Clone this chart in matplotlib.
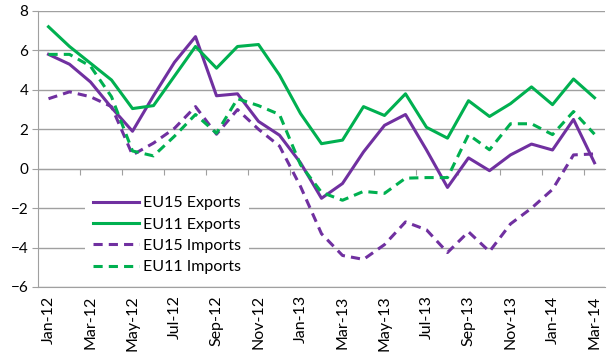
import matplotlib.pyplot as plt
import numpy as np

months = ['Jan-12', 'Feb-12', 'Mar-12', 'Apr-12', 'May-12', 'Jun-12', 'Jul-12', 'Aug-12', 'Sep-12',
          'Oct-12', 'Nov-12', 'Dec-12', 'Jan-13', 'Feb-13', 'Mar-13', 'Apr-13', 'May-13', 'Jun-13',
          'Jul-13', 'Aug-13', 'Sep-13', 'Oct-13', 'Nov-13', 'Dec-13', 'Jan-14', 'Feb-14', 'Mar-14']

eu15_exp = [5.8, 5.3, 4.4, 3.1, 1.9, 3.7, 5.4, 6.7, 3.7, 3.8, 2.4, 1.7, 0.3, -1.5, -0.75, 0.85,
            2.2, 2.75, 0.95, -0.95, 0.55, -0.1, 0.7, 1.25, 0.95, 2.5, 0.3]
eu11_exp = [7.2, 6.2, 5.35, 4.5, 3.05, 3.2, 4.7, 6.2, 5.1, 6.2, 6.3, 4.75, 2.8, 1.27, 1.45, 3.15,
            2.7, 3.8, 2.1, 1.55, 3.45, 2.65, 3.3, 4.15, 3.25, 4.55, 3.6]
eu15_imp = [3.55, 3.9, 3.65, 3.15, 0.7, 1.3, 2.05, 3.15, 1.75, 3.0, 2.0, 1.15, -0.9, -3.3, -4.4,
            -4.6, -3.85, -2.7, -3.1, -4.25, -3.2, -4.2, -2.8, -2.0, -1.05, 0.7, 0.75]
eu11_imp = [5.8, 5.8, 5.2, 3.65, 0.9, 0.65, 1.65, 2.75, 1.8, 3.55, 3.2, 2.75, 0.2, -1.2, -1.6,
            -1.15, -1.25, -0.48, -0.45, -0.45, 1.73, 0.96, 2.28, 2.28, 1.73, 2.9, 1.75]

purple = '#7030a0'
green = '#00b050'
grid_c = '#a0a0a0'

plt.rcParams['font.family'] = ['Lato', 'DejaVu Sans']

fig = plt.figure(figsize=(6.08, 3.53), dpi=100)
ax = fig.add_axes([38 / 608, 66 / 353, 567 / 608, 276 / 353])

x = np.arange(len(months))
lw = 2.2
ax.plot(x, eu15_exp, color=purple, lw=lw, label='EU15 Exports')
ax.plot(x, eu11_exp, color=green, lw=lw, label='EU11 Exports')
ax.plot(x, eu15_imp, color=purple, lw=lw, ls=(0, (3, 2)), label='EU15 Imports')
ax.plot(x, eu11_imp, color=green, lw=lw, ls=(0, (3, 2)), label='EU11 Imports')

ax.set_xlim(-0.5, len(months) - 0.5)
ax.set_ylim(-6, 8)
ax.set_yticks(range(-6, 9, 2))
ax.yaxis.grid(True, color=grid_c, lw=1)
ax.set_axisbelow(True)

ax.set_xticks(x[::2])
ax.set_xticklabels(months[::2], rotation=90, fontsize=11.5)
ax.tick_params(axis='x', length=0, pad=6)
ax.tick_params(axis='y', length=4, color=grid_c, labelsize=11, pad=3)

for s in ['top', 'right']:
    ax.spines[s].set_visible(False)
ax.spines['left'].set_color(grid_c)
ax.spines['bottom'].set_color(grid_c)

# category axis crosses at zero, tick marks between month pairs
zero_ax = ax.secondary_xaxis(6 / 14)
zero_ax.set_xticks(np.arange(1.5, len(months), 2))
zero_ax.tick_params(direction='out', length=4, color=grid_c, labelbottom=False, labeltop=False)
zero_ax.spines['bottom'].set_color(grid_c)
zero_ax.spines['top'].set_color(grid_c)

leg = ax.legend(loc='upper left', bbox_to_anchor=(77 / 608, 1 - 180 / 353),
                bbox_transform=fig.transFigure, fontsize=11.5, frameon=True,
                handlelength=2.9, handletextpad=0.25, labelspacing=0.45, borderpad=0.5)
leg.get_frame().set_edgecolor('none')
leg.get_frame().set_facecolor('white')
leg.get_frame().set_alpha(1)

fig.savefig('out.png', dpi=100)
